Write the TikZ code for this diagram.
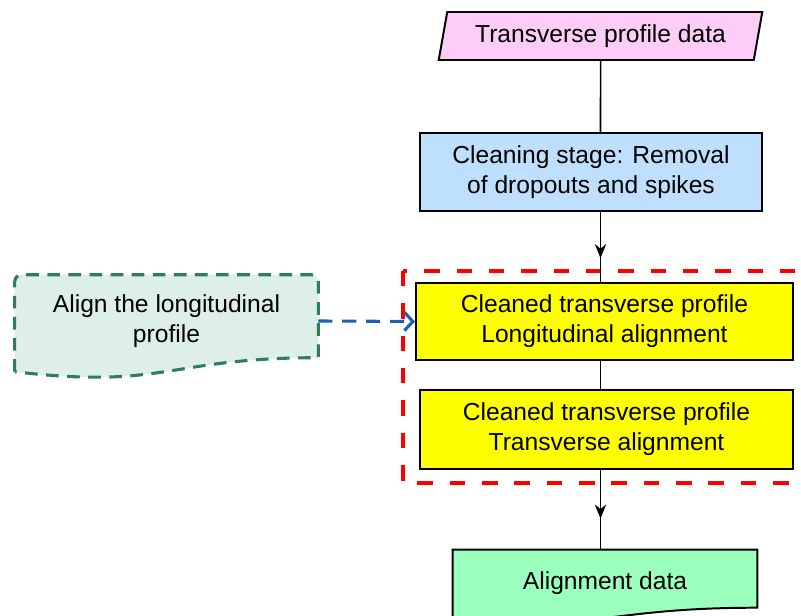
\documentclass[tikz,border=0pt]{standalone}
\usepackage{fontspec}
\setmainfont{Liberation Sans}
\usetikzlibrary{shapes.geometric, arrows.meta, decorations.markings, backgrounds, calc}

\definecolor{datapink}{RGB}{253,204,247}
\definecolor{cleanblue}{RGB}{190,224,254}
\definecolor{alignyellow}{RGB}{255,255,0}
\definecolor{outgreen}{RGB}{155,255,190}
\definecolor{notegreen}{RGB}{222,238,232}
\definecolor{notedash}{RGB}{46,125,91}
\definecolor{linkblue}{RGB}{31,95,175}

\begin{document}
\begin{tikzpicture}[
    x=0.025cm, y=-0.025cm,
    txt/.style={font=\fontsize{17.5}{21.5}\selectfont, align=center, inner sep=2pt},
    box/.style={rectangle, draw, line width=1.4pt, fill=#1, txt},
    iobox/.style={trapezium, trapezium left angle=76, trapezium right angle=104,
        trapezium stretches=true, draw, line width=1.4pt, fill=datapink, txt},
    doctext/.style={rectangle, txt},
    flow/.style={-, line width=1.1pt},
    midarrow/.style={postaction={decorate}, decoration={markings,
        mark=at position #1 with {\arrow{Stealth[length=10pt, width=8pt]}}}},
    link/.style={-{Straight Barb[length=6pt, width=13pt]}, line width=2.2pt,
        linkblue, dash pattern=on 10pt off 7pt},
    group/.style={draw=red, line width=2.8pt, dash pattern=on 11pt off 12pt}
]
\useasboundingbox (0,0) rectangle (801,616);
\clip (0,0) rectangle (801,616);

% Main chain
\node[iobox, minimum width=8.1cm, minimum height=1.2cm] (data) at (600.5,36) {Transverse profile data};
\node[box=cleanblue, minimum width=8.55cm, minimum height=1.95cm] (clean) at (591,172) {Cleaning stage: Removal\\of dropouts and spikes};
\node[box=alignyellow, minimum width=9.425cm, minimum height=1.925cm] (lal) at (604.5,321.5) {Cleaned transverse profile\\Longitudinal alignment};
\node[box=alignyellow, minimum width=9.325cm, minimum height=1.975cm] (tal) at (606.5,429.5) {Cleaned transverse profile\\Transverse alignment};
\node[doctext, minimum width=7.6cm, minimum height=1.65cm] (out) at (605,583) {Alignment data};

% Side note
\node[doctext, minimum width=7.575cm, minimum height=2.3cm] (align) at (166.5,321) {Align the longitudinal\\profile};

% Document outlines behind the texts
\begin{scope}[on background layer]
\draw[line width=1.4pt, fill=outgreen]
    (out.north west) -- (out.north east) -- ($(out.north east)+(0,58)$)
    .. controls ($(out.north)+(0,58)$) and ($(out.north)+(0,82)$) .. ($(out.north west)+(0,68)$) -- cycle;
\draw[notedash, fill=notegreen, line width=2.2pt, dash pattern=on 9pt off 6pt]
    ($(align.north west)+(0,97)$) {[rounded corners=5pt] -- (align.north west) -- (align.north east)}
    -- ($(align.north east)+(0,83)$)
    .. controls ($(align.north)+(0,83)$) and ($(align.north)+(0,115)$) .. ($(align.north west)+(0,97)$) -- cycle;
\end{scope}

% Alignment group
\draw[group] (403,271) rectangle (840,483);

% Connectors
\draw[flow] (data) -- (data |- clean.north);
\draw[flow, midarrow=0.66] (clean.south -| data) -- (lal.north -| data);
\draw[flow] (lal.south -| data) -- (tal.north -| data);
\draw[flow, midarrow=0.61] (tal.south -| data) -- (out.north -| data);
\draw[link] (align.east) -- (lal.west);
\end{tikzpicture}
\end{document}
